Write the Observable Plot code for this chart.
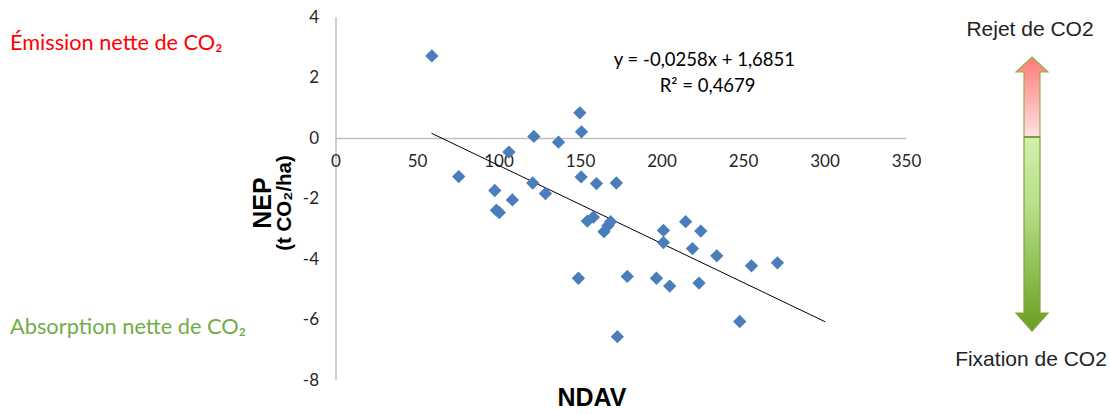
<!DOCTYPE html>
<html><head><meta charset="utf-8">
<script src="https://cdn.jsdelivr.net/npm/d3@7"></script>
<script src="https://cdn.jsdelivr.net/npm/@observablehq/plot@0.6"></script>
<style>
body{margin:0;background:#fff;}
#wrap{position:relative;width:1110px;height:414px;overflow:hidden;font-family:Lato,sans-serif;}
#wrap svg{position:absolute;left:0;top:0;}
.lab{position:absolute;white-space:nowrap;line-height:1;}
.rot{transform:translate(-50%,-50%) rotate(-90deg);font-family:"Liberation Sans",Arial,sans-serif;font-weight:bold;color:#000;}
</style></head><body><div id="wrap"></div>
<script>
// data
const ndav = [58.8,149.6,150.6,121.4,136.5,106.1,75.3,120.7,150.4,159.8,172.0,97.4,108.2,128.5,98.4,100.2,154.2,157.9,164.4,168.5,166.9,200.9,200.9,214.5,223.8,218.7,233.6,254.9,270.8,148.7,178.7,196.6,204.7,222.7,247.7,172.6];
const nep  = [2.73,0.85,0.22,0.07,-0.12,-0.45,-1.26,-1.47,-1.27,-1.49,-1.47,-1.72,-2.03,-1.82,-2.37,-2.45,-2.73,-2.60,-3.08,-2.75,-2.88,-3.04,-3.44,-2.75,-3.06,-3.64,-3.88,-4.21,-4.11,-4.62,-4.56,-4.62,-4.88,-4.78,-6.05,-6.55];
const xTicks = [0,50,100,150,200,250,300,350];
const yTicks = [4,2,0,-2,-4,-6,-8];
const trendSlope = -0.0258, trendIntercept = 1.6851;
const trendXs = [58.8, 300];
const equationLines = ["y = -0,0258x + 1,6851", "R² = 0,4679"];
const xTitle = "NDAV";
const yTitle = ["NEP", "(t CO₂/ha)"];
const leftLabels = ["Émission nette de CO₂", "Absorption nette de CO₂"];
const arrowLabels = ["Rejet de CO2", "Fixation de CO2"];

const points = ndav.map((x, i) => ({x, y: nep[i]}));
const trend = trendXs.map(x => ({x, y: trendSlope * x + trendIntercept}));

const axisColor = "#bfbfbf";
const tickFont = {fontFamily: "Lato, sans-serif", fontSize: 17, fill: "#262626"};

const chart = Plot.plot({
  width: 1110, height: 414,
  marginLeft: 335.5, marginRight: 204, marginTop: 17, marginBottom: 34,
  style: {background: "transparent", fontFamily: "Lato, sans-serif"},
  x: {domain: [0, 350], axis: null},
  y: {domain: [-8, 4], axis: null},
  marks: [
    Plot.ruleX([0], {y1: -8, y2: 4, stroke: axisColor, strokeWidth: 1.5}),
    Plot.ruleY([0], {x1: 0, x2: 350, stroke: axisColor, strokeWidth: 1.5}),
    Plot.text(xTicks, {x: d => d, y: 0, dy: 23, text: d => String(d), ...tickFont}),
    Plot.text(yTicks, {x: 0, y: d => d, dx: -17, textAnchor: "end", text: d => String(d), ...tickFont}),
    Plot.line(trend, {x: "x", y: "y", stroke: "#000", strokeWidth: 1}),
    Plot.dot(points, {x: "x", y: "y", symbol: "diamond2", r: 6, fill: "#4a7ebb", stroke: "none"}),
    Plot.text([equationLines[0]], {x: 226, y: 2.58, text: d => d, fontSize: 18.5, fill: "#000", fontFamily: "Lato, sans-serif"}),
    Plot.text([equationLines[1]], {x: 228, y: 1.72, text: d => d, fontSize: 18.5, fill: "#000", fontFamily: "Lato, sans-serif"})
  ]
});
const wrap = document.getElementById("wrap");
wrap.appendChild(chart);

function label(text, style) {
  const d = document.createElement("div");
  d.className = "lab";
  d.textContent = text;
  Object.assign(d.style, style);
  wrap.appendChild(d);
  return d;
}
label(leftLabels[0], {left: "10px", top: "32px", fontSize: "21.7px", color: "#ff0000"});
label(leftLabels[1], {left: "10px", top: "315px", fontSize: "21.8px", color: "#70ad47"});
label(xTitle, {left: "592px", top: "397px", transform: "translate(-50%,-50%)", fontFamily: "'Liberation Sans',Arial,sans-serif", fontWeight: "bold", fontSize: "25px"});
const t1 = label(yTitle[0], {left: "262px", top: "203px", fontSize: "25px"}); t1.classList.add("rot");
const t2 = label(yTitle[1], {left: "284px", top: "203px", fontSize: "20.5px"}); t2.classList.add("rot");
label(arrowLabels[0], {left: "1030px", top: "28px", transform: "translate(-50%,-50%)", fontFamily: "'Liberation Sans',Arial,sans-serif", fontSize: "21px", color: "#222"});
label(arrowLabels[1], {left: "1031px", top: "358px", transform: "translate(-50%,-50%)", fontFamily: "'Liberation Sans',Arial,sans-serif", fontSize: "21px", color: "#222"});

// decorative double arrow
const ns = "http://www.w3.org/2000/svg";
const arrow = document.createElementNS(ns, "svg");
arrow.setAttribute("width", 1110); arrow.setAttribute("height", 414);
arrow.innerHTML = `
<defs>
 <linearGradient id="gr" x1="0" y1="0" x2="0" y2="1">
  <stop offset="0" stop-color="#ff7a7a"/><stop offset="1" stop-color="#ffe0e0"/>
 </linearGradient>
 <linearGradient id="gg" x1="0" y1="0" x2="0" y2="1">
  <stop offset="0" stop-color="#d2efaa"/><stop offset="0.35" stop-color="#b8e08a"/><stop offset="1" stop-color="#6a9e22"/>
 </linearGradient>
</defs>
<path d="M1032,57 L1048,72 L1040,72 L1040,137 L1024,137 L1024,72 L1016,72 Z" fill="url(#gr)" stroke="#8fb24a" stroke-width="1.2"/>
<path d="M1024,137 L1040,137 L1040,313 L1048,313 L1032,331 L1016,313 L1024,313 Z" fill="url(#gg)" stroke="#7ca83a" stroke-width="1.2"/>
<line x1="1024" y1="137" x2="1040" y2="137" stroke="#6f8f3a" stroke-width="1.5"/>`;
wrap.appendChild(arrow);
</script></body></html>
